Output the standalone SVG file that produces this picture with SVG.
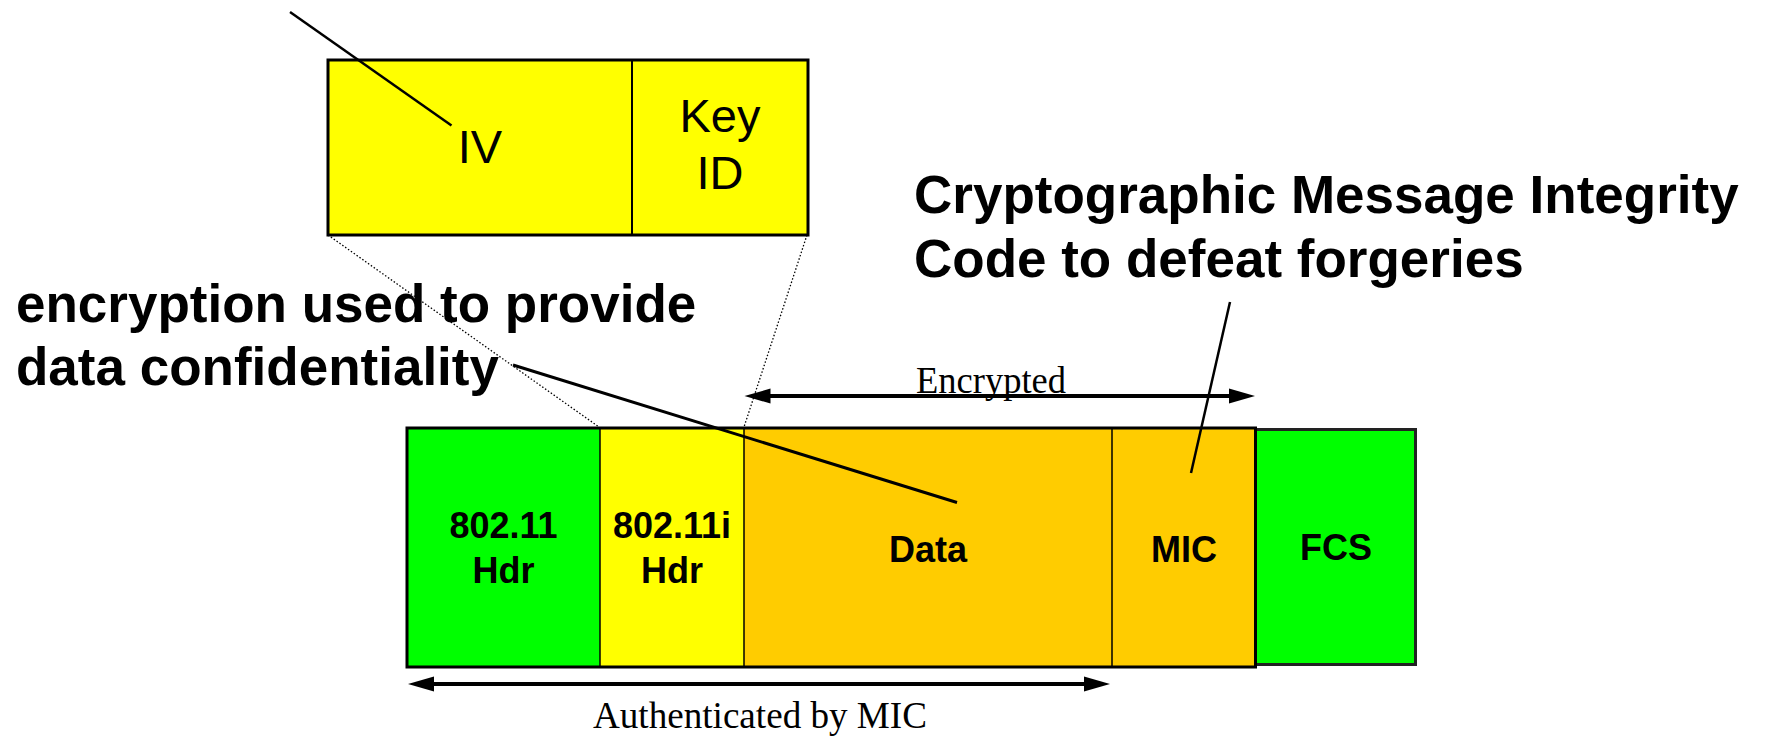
<svg xmlns="http://www.w3.org/2000/svg" width="1765" height="737" viewBox="0 0 1765 737">
  <defs>
    <style>
      .note { font-family: "Liberation Sans", Arial, sans-serif; font-weight: bold; font-size: 53px; fill: #000; }
      .field { font-family: "Liberation Sans", Arial, sans-serif; font-weight: bold; font-size: 36px; fill: #000; text-anchor: middle; }
      .sub { font-family: "Liberation Sans", Arial, sans-serif; font-size: 47px; fill: #000; text-anchor: middle; }
      .span { font-family: "Liberation Serif", "Times New Roman", serif; font-size: 37px; fill: #000; }
      .edge { stroke: #000; fill: none; }
      .thin { stroke: #000; stroke-width: 1.5; }
      .dots { stroke: #000; stroke-width: 1.3; stroke-dasharray: 1.5 2; fill: none; }
      .range { stroke: #000; stroke-width: 4; marker-start: url(#head); marker-end: url(#head); }
    </style>
    <marker id="head" markerUnits="userSpaceOnUse" markerWidth="26" markerHeight="15" refX="6" refY="7.5" orient="auto-start-reverse" overflow="visible">
      <path d="M0,0 L26,7.5 L0,15 z" fill="#000"/>
    </marker>
  </defs>

  <rect width="1765" height="737" fill="#fff"/>

  <!-- expanded 802.11i header: IV and Key ID -->
  <g id="ext-header">
    <rect x="328" y="60" width="480" height="175" fill="#ffff00" stroke="#000" stroke-width="3"/>
    <line x1="632" y1="60" x2="632" y2="235" stroke="#000" stroke-width="2"/>
    <text class="sub" x="480" y="163">IV</text>
    <text class="sub" x="720" y="132">Key</text>
    <text class="sub" x="720" y="189">ID</text>
  </g>

  <!-- frame layout -->
  <g id="hdr80211">
    <rect x="407" y="428" width="193" height="239" fill="#00ff00"/>
    <text class="field" x="503.5" y="538">802.11</text>
    <text class="field" x="503.5" y="583">Hdr</text>
  </g>
  <g id="hdr80211i">
    <rect x="600" y="428" width="144" height="239" fill="#ffff00"/>
    <text class="field" x="672" y="538">802.11i</text>
    <text class="field" x="672" y="583">Hdr</text>
  </g>
  <g id="data">
    <rect x="744" y="428" width="368" height="239" fill="#ffcc00"/>
    <text class="field" x="928" y="562">Data</text>
  </g>
  <g id="mic">
    <rect x="1112" y="428" width="143.5" height="239" fill="#ffcc00"/>
    <text class="field" x="1184" y="562">MIC</text>
  </g>
  <g id="fcs">
    <rect x="1255.5" y="429.5" width="160" height="235" fill="#00ff00" stroke="#222" stroke-width="3"/>
    <text class="field" x="1336" y="560">FCS</text>
  </g>
  <g id="frame-outline">
    <rect x="407" y="428" width="848.5" height="239" fill="none" stroke="#000" stroke-width="3"/>
    <line class="thin" x1="600" y1="428" x2="600" y2="667"/>
    <line class="thin" x1="744" y1="428" x2="744" y2="667"/>
    <line class="thin" x1="1112" y1="428" x2="1112" y2="667"/>
  </g>

  <!-- annotations -->
  <g id="note-encryption">
    <text class="note" x="16" y="322">encryption used to provide</text>
    <text class="note" x="16" y="385">data confidentiality</text>
  </g>
  <g id="note-mic">
    <text class="note" x="914" y="213">Cryptographic Message Integrity</text>
    <text class="note" x="914" y="277">Code to defeat forgeries</text>
  </g>
  <g id="label-encrypted">
    <text class="span" x="916" y="393" textLength="150" lengthAdjust="spacingAndGlyphs">Encrypted</text>
  </g>
  <g id="label-authenticated">
    <text class="span" x="593" y="728" textLength="334" lengthAdjust="spacingAndGlyphs">Authenticated by MIC</text>
  </g>

  <!-- connectors -->
  <g id="connectors">
    <line class="dots" x1="328" y1="235" x2="599" y2="427"/>
    <line class="dots" x1="807" y1="235" x2="744" y2="427"/>
    <line class="edge" stroke-width="2.5" x1="290" y1="12" x2="451.5" y2="125.5"/>
    <line class="edge" stroke-width="3" x1="513" y1="365" x2="957" y2="502.5"/>
    <line class="edge" stroke-width="2.5" x1="1230" y1="302" x2="1191" y2="473"/>
    <line class="range" x1="764.5" y1="396" x2="1235" y2="396"/>
    <line class="range" x1="428" y1="684" x2="1090" y2="684"/>
  </g>
</svg>
